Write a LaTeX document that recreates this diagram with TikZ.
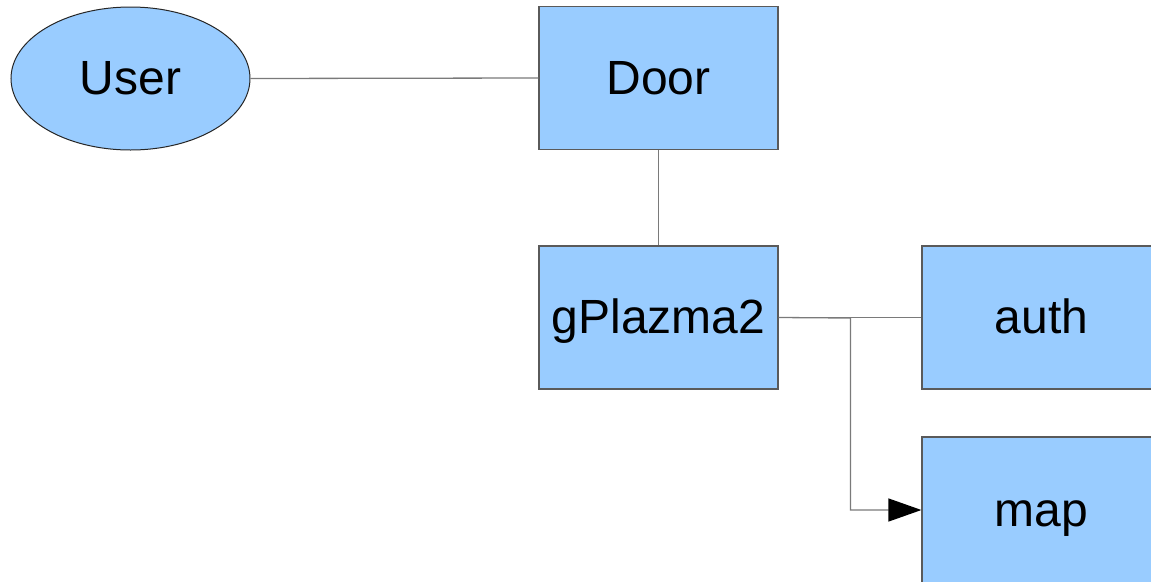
\documentclass[tikz,border=0pt]{standalone}
\usepackage{fontspec}
\setmainfont{Liberation Sans}
\usetikzlibrary{arrows.meta,shapes.geometric}
\definecolor{boxfill}{HTML}{99CCFF}
\definecolor{boxline}{HTML}{5A5A5A}
\definecolor{conn}{HTML}{7A7A7A}
\begin{document}
\begin{tikzpicture}[x=1pt,y=-1pt,
  blockbox/.style={draw=boxline,fill=boxfill,line width=1.2pt,minimum width=239pt,minimum height=143pt,inner sep=0pt,text height=32pt,text depth=0pt,font=\fontsize{48}{52}\selectfont},
  userell/.style={ellipse,draw=black!85,fill=boxfill,line width=1pt,minimum width=239pt,minimum height=143pt,inner sep=0pt,text height=32pt,text depth=0pt,font=\fontsize{48}{52}\selectfont},
  conline/.style={draw=conn,line width=1.3pt}]
\clip (0,0) rectangle (1151,581);
\useasboundingbox (0,0) rectangle (1151,581);
\node[userell] (user) at (130.5,78.5) {User};
\node[blockbox] (door) at (658.5,78) {Door};
\node[blockbox] (gp) at (658.5,317.5) {gPlazma2};
\node[blockbox] (auth) at (1041.5,317.5) {auth};
\node[blockbox,minimum height=146pt] (map) at (1041.5,510) {map};
\coordinate (junc) at (850.5,318);
\draw[conline] (user.east) -- (door.west);
\draw[conline] (door.south) -- (gp.north);
\draw[conline] (gp.east) -- (auth.west);
\draw[conline,-{Triangle[length=33pt,width=23pt,color=black,fill=black]}] (gp.east) -- (junc) |- (map.west);
\end{tikzpicture}
\end{document}
